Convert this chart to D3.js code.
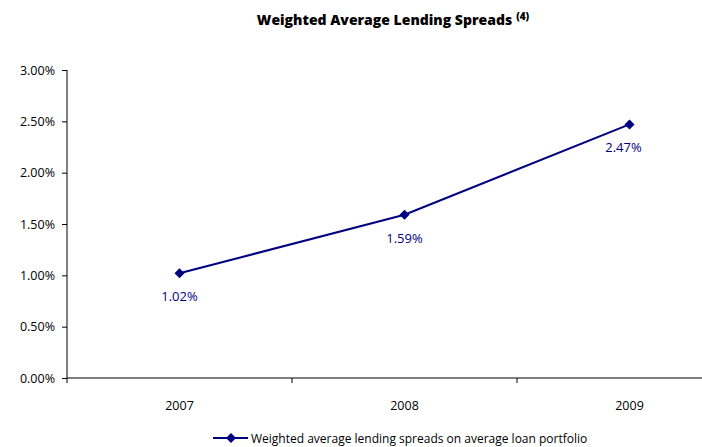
<!DOCTYPE html>
<html><head><meta charset="utf-8">
<script src="https://cdn.jsdelivr.net/npm/d3@7"></script>
<style>body{margin:0;background:#fff}svg{display:block}text{font-family:"Open Sans","DejaVu Sans",sans-serif}</style>
</head><body>
<svg id="c" width="702" height="447"></svg>
<script>
const categories = ["2007","2008","2009"];
const values = [1.02, 1.59, 2.47];
const yTicks = [0,0.5,1,1.5,2,2.5,3];
const seriesName = "Weighted average lending spreads on average loan portfolio";
const title = "Weighted Average Lending Spreads";
const titleNote = "(4)";

const svg = d3.select("#c");
const navy = "#000080";
const x = d3.scaleBand().domain(categories).range([67, 742]);
const y = d3.scaleLinear().domain([0,3]).range([378, 70]);

// title
const t = svg.append("text").attr("x", 393).attr("y", 25).attr("text-anchor","middle")
  .style("font-weight","800").style("font-size","14px").attr("fill","#000");
t.append("tspan").text(title);
t.append("tspan").attr("dx",4).attr("dy",-5).style("font-size","10px").text(titleNote);

// y axis
const ya = svg.append("g").attr("transform","translate(67,0)")
  .call(d3.axisLeft(y).tickValues(yTicks).tickSize(5).tickPadding(7).tickFormat(d=>d3.format(".2f")(d)+"%"));
ya.selectAll("path,line").attr("stroke","#000");
ya.selectAll("text").style("font-size","12.5px").attr("fill","#000");
ya.select(".domain").attr("d","M0,70V378");

// x axis
const xa = svg.append("g").attr("transform","translate(0,378)");
xa.append("line").attr("x1",67).attr("x2",742).attr("stroke","#000");
const bounds = categories.map(c=>x(c)).concat([x(categories[categories.length-1])+x.bandwidth()]);
xa.selectAll("line.t").data(bounds).join("line").attr("class","t")
  .attr("x1",d=>d).attr("x2",d=>d).attr("y1",0).attr("y2",5).attr("stroke","#000");
xa.selectAll("text").data(categories).join("text")
  .attr("x",d=>x(d)+x.bandwidth()/2).attr("y",32).attr("text-anchor","middle")
  .style("font-size","12.5px").attr("fill","#000").text(d=>d);

// line
const cx = d=>x(d)+x.bandwidth()/2;
const line = d3.line().x((d,i)=>cx(categories[i])).y(d=>y(d));
svg.append("path").datum(values).attr("d",line).attr("fill","none").attr("stroke",navy).attr("stroke-width",2);
const diamond = d3.symbol().type(d3.symbolSquare).size(50);
svg.selectAll("path.m").data(values).join("path").attr("class","m")
  .attr("d",diamond).attr("transform",(d,i)=>`translate(${cx(categories[i])},${y(d)}) rotate(45)`).attr("fill",navy);
svg.selectAll("text.lbl").data(values).join("text").attr("class","lbl")
  .attr("x",(d,i)=>cx(categories[i])-(i===2?6:0)).attr("y",d=>y(d)+28).attr("text-anchor","middle")
  .style("font-size","13px").attr("fill",navy).text(d=>d.toFixed(2)+"%");

// legend
const lg = svg.append("g").attr("transform","translate(213,438)");
lg.append("line").attr("x1",0).attr("x2",35).attr("stroke",navy).attr("stroke-width",2);
lg.append("path").attr("d",diamond).attr("transform","translate(18,0) rotate(45)").attr("fill",navy);
lg.append("text").attr("x",38).attr("y",4.5).style("font-size","12px").attr("fill","#000").text(seriesName);
</script>
</body></html>
